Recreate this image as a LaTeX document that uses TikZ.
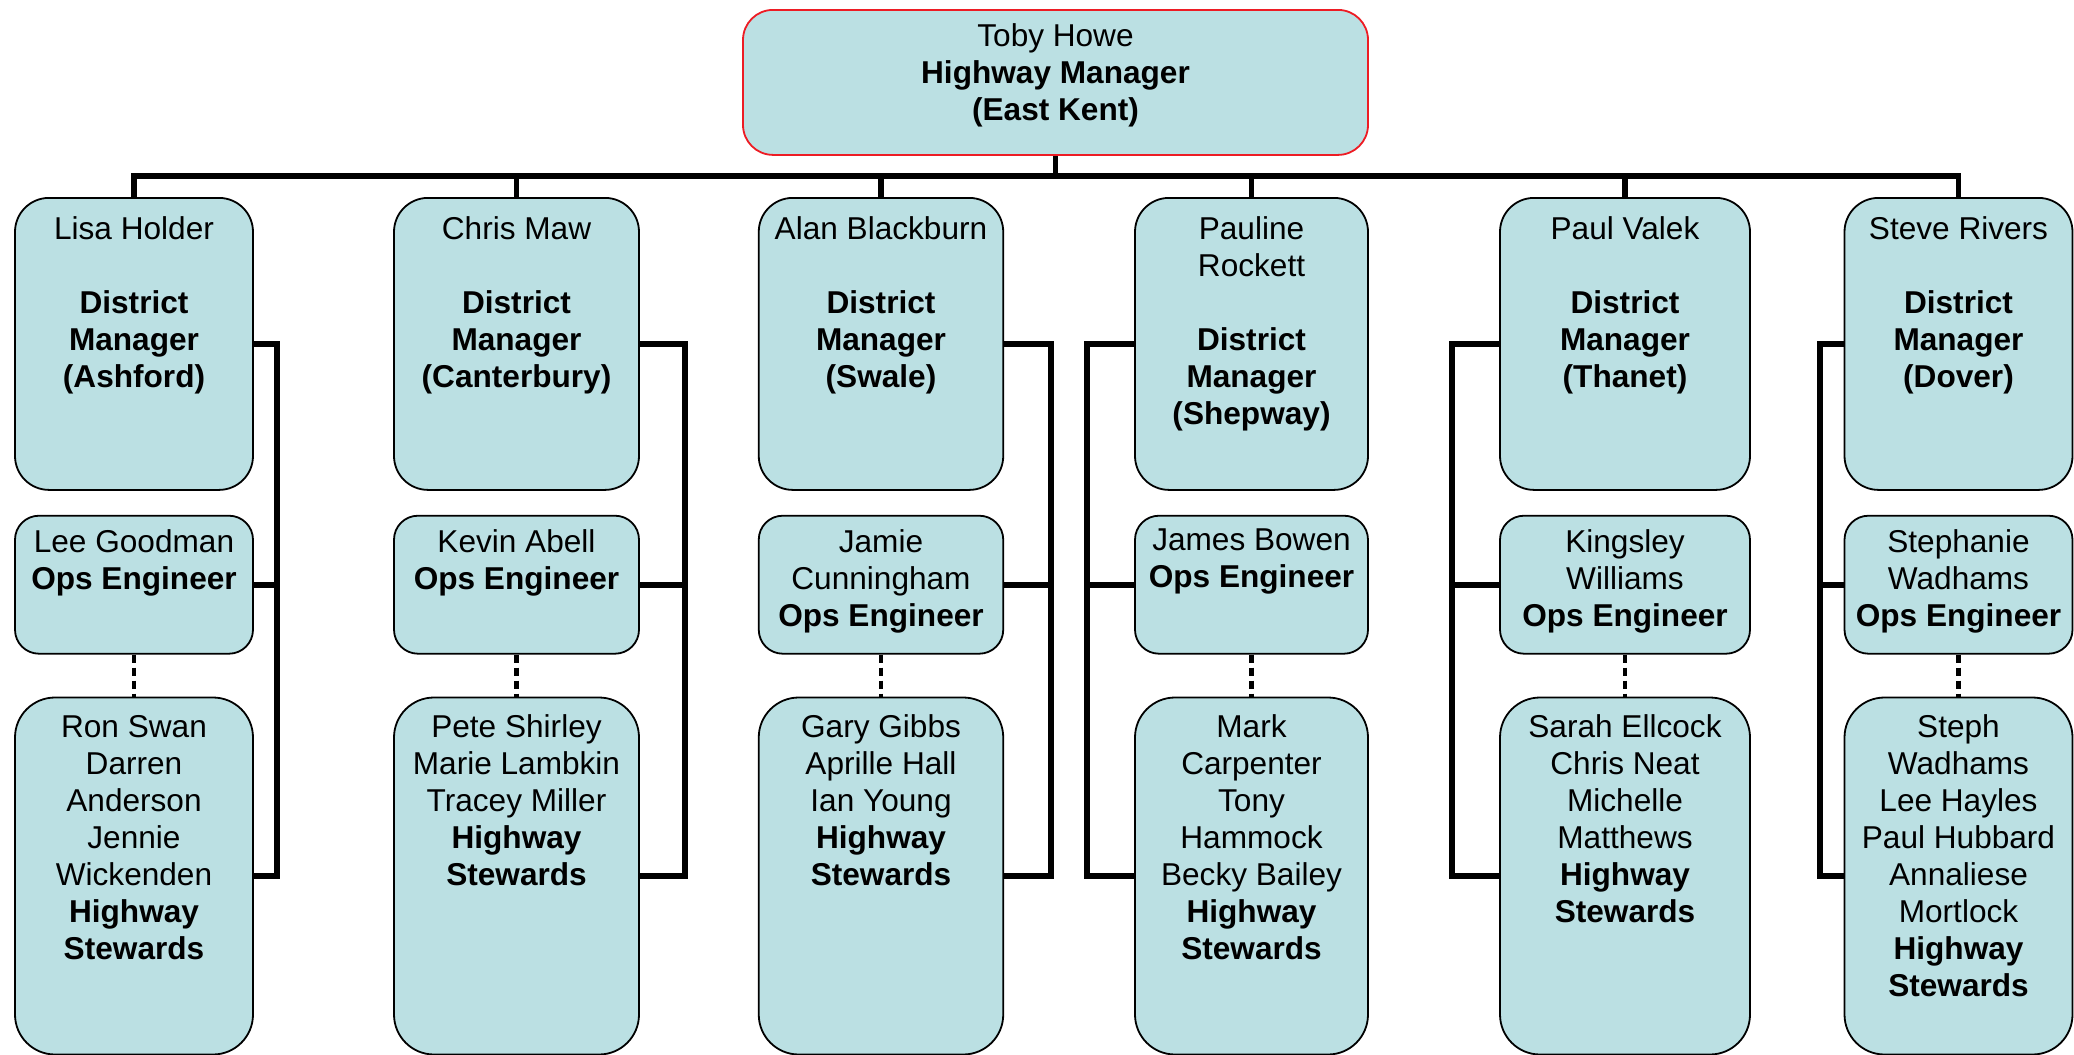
\documentclass[tikz,border=0pt]{standalone}
\usepackage{fontspec}
\setmainfont{Liberation Sans}
\usetikzlibrary{positioning}
\definecolor{boxblue}{RGB}{187,224,227}
\definecolor{topred}{RGB}{237,28,36}

\begin{document}
\begin{tikzpicture}[x=0.5pt, y=-0.5pt, font=\fontsize{15.8}{18.5}\selectfont]
	\tikzstyle{card}    = [rectangle, anchor=north, draw=black, line width=0.9pt, fill=boxblue, inner sep=0pt]
	\tikzstyle{dmcard}  = [card, minimum height=146pt, rounded corners=17pt]
	\tikzstyle{opscard} = [card, minimum height=69pt, rounded corners=12pt]
	\tikzstyle{stwcard} = [card, minimum height=178.5pt, rounded corners=20pt]
	\tikzstyle{txt}     = [align=center, inner sep=0pt]
	\tikzstyle{link}    = [line width=2.8pt, line join=miter]
	\tikzstyle{dots}    = [line width=2.2pt, dash pattern=on 4pt off 2.5pt]

	\useasboundingbox (0,0) rectangle (2074,1055);

	% highway manager
	\node[card, draw=topred, minimum width=312.5pt, minimum height=72.5pt, rounded corners=15pt] (top) at (1055.5,9) {};
	\node[txt, below=7pt of top.north] (top-t) {Toby Howe\\\textbf{Highway Manager}\\\textbf{(East Kent)}};

	% one column of three cards per district
	\foreach \c/\x/\w in {A/134/119, B/516.5/122.5, C/881/122.25, D/1251.5/116.5, E/1625/125, F/1958.5/114}
	{
		\node[dmcard, minimum width=\w pt] (dm\c) at (\x,197) {};
		\node[opscard, minimum width=\w pt, below=12pt of dm\c] (ops\c) {};
		\node[stwcard, minimum width=\w pt, below=21pt of ops\c] (stw\c) {};
	}

	\foreach \c/\name/\area in {A/{Lisa Holder}/Ashford, B/{Chris Maw}/Canterbury, C/{Alan Blackburn}/Swale,
		D/{Pauline\\Rockett}/Shepway, E/{Paul Valek}/Thanet, F/{Steve Rivers}/Dover}
		\node[txt, below=9.5pt of dm\c.north] (dm\c-t) {\name\\[18.5pt]\textbf{District}\\\textbf{Manager}\\\textbf{(\area)}};

	\foreach \c/\name in {A/{Lee Goodman}, B/{Kevin Abell}, C/{Jamie\\Cunningham}, D/{James Bowen},
		E/{Kingsley\\Williams}, F/{Stephanie\\Wadhams}}
		\node[txt, below=7pt of ops\c.north] (ops\c-t) {\name\\\textbf{Ops Engineer}};

	\foreach \c/\names in {A/{Ron Swan\\Darren\\Anderson\\Jennie\\Wickenden},
		B/{Pete Shirley\\Marie Lambkin\\Tracey Miller}, C/{Gary Gibbs\\Aprille Hall\\Ian Young},
		D/{Mark\\Carpenter\\Tony\\Hammock\\Becky Bailey}, E/{Sarah Ellcock\\Chris Neat\\Michelle\\Matthews},
		F/{Steph\\Wadhams\\Lee Hayles\\Paul Hubbard\\Annaliese\\Mortlock}}
		\node[txt, below=9pt of stw\c.north] (stw\c-t) {\names\\\textbf{Highway}\\\textbf{Stewards}};

	% connectors
	\coordinate (bus) at (0,176);
	\draw[link] (dmA.north) |- (top.south |- bus) -| (dmF.north);
	\draw[link] (top.south) -- (top.south |- bus);

	\foreach \c/\s/\bx in {A/east/277, B/east/685, C/east/1051, D/west/1087, E/west/1452, F/west/1820}
	{
		\coordinate (bar\c) at (\bx,0);
		\draw[link] (dm\c.north) -- (dm\c.north |- bus);
		\draw[link] (dm\c.\s) -- (dm\c.\s -| bar\c) -- (stw\c.\s -| bar\c) -- (stw\c.\s);
		\draw[link] (ops\c.\s) -- (ops\c.\s -| bar\c);
		\draw[dots] (ops\c.south) -- (stw\c.north);
	}
\end{tikzpicture}
\end{document}
